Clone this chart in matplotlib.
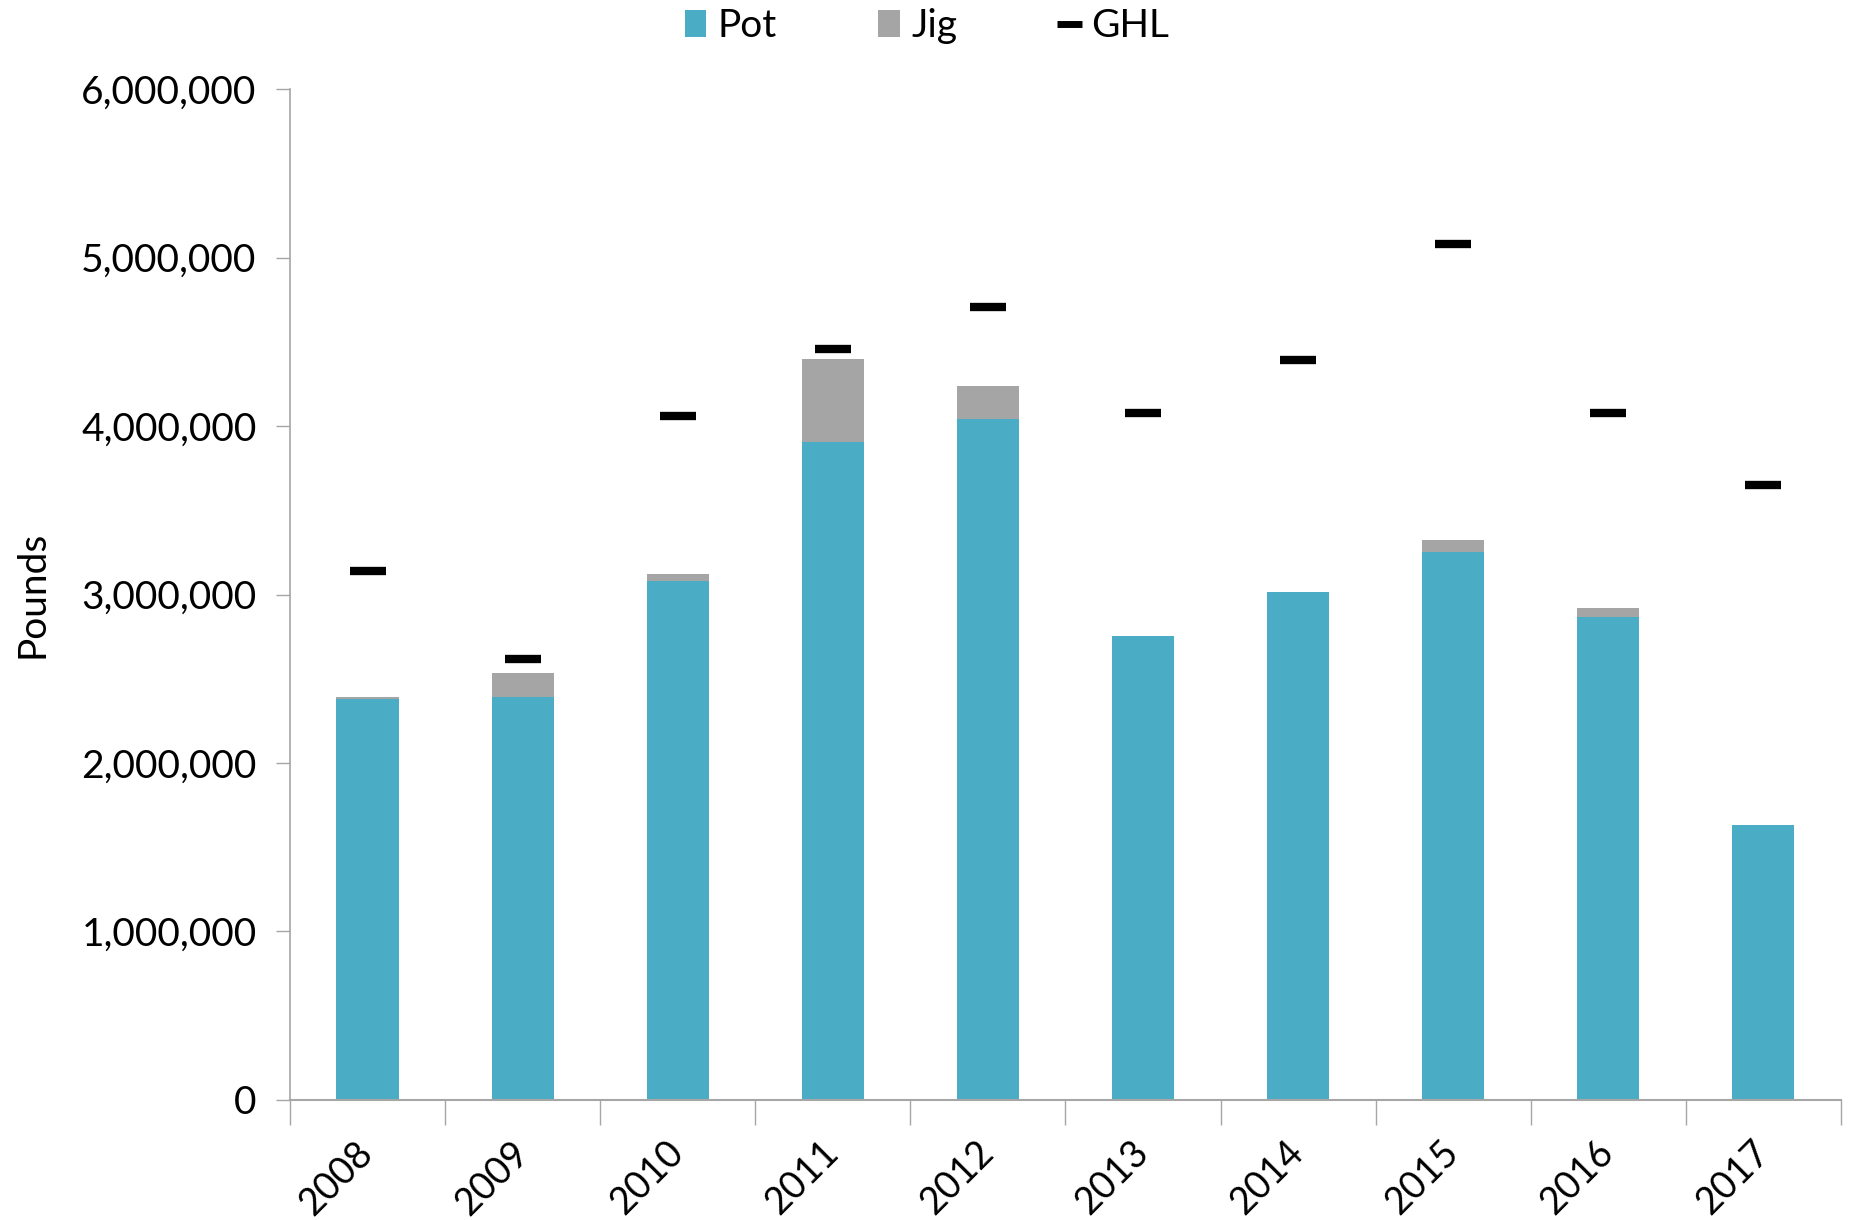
import matplotlib
matplotlib.use("Agg")
import matplotlib.pyplot as plt
from matplotlib.ticker import FuncFormatter, FixedLocator
from matplotlib.lines import Line2D
from matplotlib.transforms import ScaledTranslation
import numpy as np

years = ["2008", "2009", "2010", "2011", "2012", "2013", "2014", "2015", "2016", "2017"]
pot = [2380000, 2394000, 3078000, 3907000, 4042000, 2752000, 3012000, 3255000, 2869000, 1633000]
jig_total = [2394000, 2532000, 3124000, 4400000, 4239000, 2752000, 3012000, 3325000, 2920000, 1633000]
ghl = [3141000, 2615000, 4059000, 4455000, 4709000, 4077000, 4390000, 5078000, 4077000, 3651000]
jig = [t - p for t, p in zip(jig_total, pot)]

plt.rcParams['font.family'] = ['Lato', 'DejaVu Sans']

fig = plt.figure(figsize=(18.54, 12.2), dpi=100)
ax = fig.add_axes([0.1564, 0.0984, 0.8366, 0.8286])

x = np.arange(len(years))
w = 0.4
b1 = ax.bar(x, pot, width=w, color="#4BACC6", label="Pot", zorder=2)
b2 = ax.bar(x, jig, width=w, bottom=pot, color="#A5A5A5", label="Jig", zorder=2)
ax.plot(x, ghl, linestyle="none", marker="_", markersize=26, markeredgewidth=6,
        color="black", label="GHL", zorder=3)

ax.set_xlim(-0.5, len(years) - 0.5)
ax.set_ylim(0, 6000000)
ax.set_yticks(np.arange(0, 6000001, 1000000))
ax.yaxis.set_major_formatter(FuncFormatter(lambda v, p: f"{int(v):,}"))

ax.set_xticks(x)
ax.set_xticklabels(years, rotation=45, fontsize=27, ha="right", va="center",
                   rotation_mode="anchor")
offset = ScaledTranslation(0.12, 0, fig.dpi_scale_trans)
for lab in ax.get_xticklabels():
    lab.set_transform(lab.get_transform() + offset)
ax.xaxis.set_minor_locator(FixedLocator(np.arange(-0.5, len(years), 1.0)))
ax.tick_params(axis='x', which='major', length=0, pad=34)
ax.tick_params(axis='x', which='minor', length=18, color="#A6A6A6", width=1)
ax.tick_params(axis='y', which='major', length=10, color="#A6A6A6", width=1, labelsize=28, pad=14)

for s in ["top", "right"]:
    ax.spines[s].set_visible(False)
ax.spines["left"].set_color("#A6A6A6")
ax.spines["bottom"].set_color("#A6A6A6")
ax.spines["left"].set_linewidth(1.2)
ax.spines["bottom"].set_linewidth(1.5)

ax.set_ylabel("Pounds", fontsize=28, labelpad=22)

ghl_handle = Line2D([], [], linestyle="none", marker="_", markersize=18,
                    markeredgewidth=5, color="black")
leg = fig.legend([b1, b2, ghl_handle], ["Pot", "Jig", "GHL"],
                 loc="upper center", bbox_to_anchor=(0.5, 1.022), ncol=3, frameon=False,
                 fontsize=28, handlelength=0.55, handleheight=0.7, handletextpad=0.3,
                 columnspacing=2.6)

fig.savefig("out.png", dpi=100)
